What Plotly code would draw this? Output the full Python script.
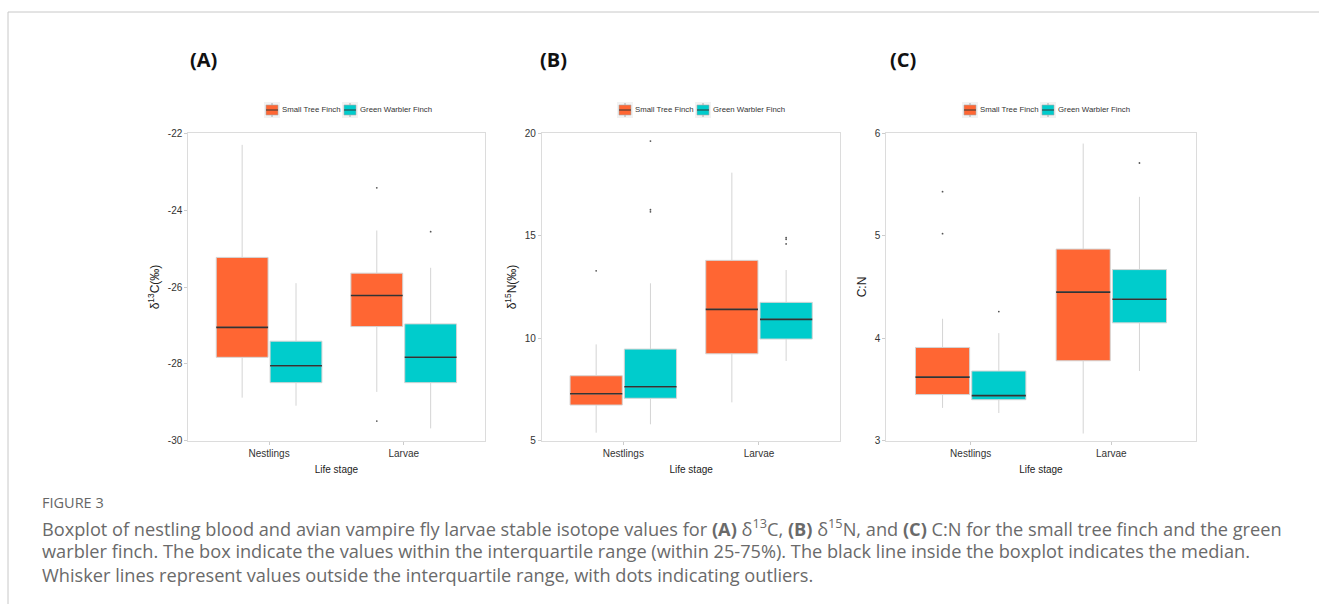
import plotly.graph_objects as go

W, H = 1319, 604
stages = ["Nestlings", "Larvae"]
species = ["Small Tree Finch", "Green Warbler Finch"]
colors = ["#FF6633", "#00CCCC"]

# ---- Panel A: d13C ----
c_stf_low = [-28.88, -28.73]
c_stf_q1 = [-27.83, -27.03]
c_stf_med = [-27.05, -26.22]
c_stf_q3 = [-25.23, -25.64]
c_stf_high = [-22.30, -24.53]
c_stf_out_stage = ["Larvae", "Larvae"]
c_stf_out = [-23.42, -29.49]

c_gwf_low = [-29.09, -29.68]
c_gwf_q1 = [-28.49, -28.49]
c_gwf_med = [-28.05, -27.83]
c_gwf_q3 = [-27.41, -26.96]
c_gwf_high = [-25.90, -25.50]
c_gwf_out_stage = ["Larvae"]
c_gwf_out = [-24.56]

# ---- Panel B: d15N ----
n_stf_low = [5.39, 6.87]
n_stf_q1 = [6.74, 9.24]
n_stf_med = [7.29, 11.41]
n_stf_q3 = [8.17, 13.80]
n_stf_high = [9.70, 18.08]
n_stf_out_stage = ["Nestlings"]
n_stf_out = [13.29]

n_gwf_low = [5.80, 8.89]
n_gwf_q1 = [7.07, 9.96]
n_gwf_med = [7.63, 10.92]
n_gwf_q3 = [9.47, 11.75]
n_gwf_high = [12.68, 13.33]
n_gwf_out_stage = ["Nestlings", "Nestlings", "Nestlings", "Larvae", "Larvae", "Larvae"]
n_gwf_out = [19.62, 16.27, 16.17, 14.91, 14.83, 14.60]

# ---- Panel C: C:N ----
r_stf_low = [3.32, 3.07]
r_stf_q1 = [3.45, 3.78]
r_stf_med = [3.62, 4.45]
r_stf_q3 = [3.91, 4.87]
r_stf_high = [4.19, 5.90]
r_stf_out_stage = ["Nestlings", "Nestlings"]
r_stf_out = [5.43, 5.02]

r_gwf_low = [3.27, 3.68]
r_gwf_q1 = [3.40, 4.15]
r_gwf_med = [3.44, 4.38]
r_gwf_q3 = [3.68, 4.67]
r_gwf_high = [4.05, 5.38]
r_gwf_out_stage = ["Nestlings", "Larvae"]
r_gwf_out = [4.26, 5.71]

y_titles = ["δ<sup>13</sup>C(‰)", "δ<sup>15</sup>N(‰)", "C:N"]
y_ranges = [[-30, -22], [5, 20], [3, 6]]
y_ticks = [[-30, -28, -26, -24, -22], [5, 10, 15, 20], [3, 4, 5, 6]]
panel_labels = ["(A)", "(B)", "(C)"]

panels = [
    [(c_stf_low, c_stf_q1, c_stf_med, c_stf_q3, c_stf_high, c_stf_out_stage, c_stf_out),
     (c_gwf_low, c_gwf_q1, c_gwf_med, c_gwf_q3, c_gwf_high, c_gwf_out_stage, c_gwf_out)],
    [(n_stf_low, n_stf_q1, n_stf_med, n_stf_q3, n_stf_high, n_stf_out_stage, n_stf_out),
     (n_gwf_low, n_gwf_q1, n_gwf_med, n_gwf_q3, n_gwf_high, n_gwf_out_stage, n_gwf_out)],
    [(r_stf_low, r_stf_q1, r_stf_med, r_stf_q3, r_stf_high, r_stf_out_stage, r_stf_out),
     (r_gwf_low, r_gwf_q1, r_gwf_med, r_gwf_q3, r_gwf_high, r_gwf_out_stage, r_gwf_out)],
]

# layout (pixels)
x_dom_px = [(188.3, 484.5), (541.9, 840.4), (886.3, 1195.7)]
y_dom_px = (133.3, 440.7)
legend_left = [264, 617, 962]
legend_y = 110
legend_item_step = 78
label_cx = [203, 553, 903]

offsets = [-0.2, 0.2]
box_w = 0.385
stage_pos = {s: i + 1 for i, s in enumerate(stages)}

fig = go.Figure()
font = "Liberation Sans, Arial, sans-serif"

for p, panel in enumerate(panels):
    xa = "x" if p == 0 else f"x{p+1}"
    ya = "y" if p == 0 else f"y{p+1}"
    for s, (low, q1, med, q3, high, ost, oval) in enumerate(panel):
        xs = [stage_pos[st] + offsets[s] for st in stages]
        fig.add_trace(go.Box(
            x=xs, q1=q1, median=med, q3=q3, lowerfence=low, upperfence=high,
            width=box_w, whiskerwidth=0, boxpoints=False,
            fillcolor=colors[s], line=dict(color="#d4d4d4", width=1),
            name=species[s], xaxis=xa, yaxis=ya,
            showlegend=False, hoverinfo="skip",
        ))
        # median lines
        mx, my = [], []
        for x, m in zip(xs, med):
            mx += [x - box_w / 2, x + box_w / 2, None]
            my += [m, m, None]
        fig.add_trace(go.Scatter(x=mx, y=my, mode="lines",
                                 line=dict(color="#333333", width=1.6),
                                 xaxis=xa, yaxis=ya, showlegend=False, hoverinfo="skip"))
        # outliers
        fig.add_trace(go.Scatter(
            x=[stage_pos[st] + offsets[s] for st in ost], y=oval, mode="markers",
            marker=dict(color="#555555", size=1.8),
            xaxis=xa, yaxis=ya, showlegend=False, hoverinfo="skip"))

layout = dict(
    width=W, height=H, margin=dict(l=0, r=0, t=0, b=0),
    paper_bgcolor="white", plot_bgcolor="white", showlegend=False,
)
for p in range(3):
    xk = "xaxis" if p == 0 else f"xaxis{p+1}"
    yk = "yaxis" if p == 0 else f"yaxis{p+1}"
    x0, x1 = x_dom_px[p]
    layout[xk] = dict(
        domain=[x0 / W, x1 / W], range=[0.4, 2.6], tickvals=[1, 2], ticktext=stages,
        showgrid=False, zeroline=False, showline=True, mirror=True,
        linecolor="#dcdcdc", linewidth=1, ticks="outside", ticklen=3, tickcolor="#cccccc",
        tickfont=dict(family=font, size=10, color="#333333"),
        title=dict(text="Life stage", font=dict(family=font, size=10, color="#222222"), standoff=8),
        anchor="y" if p == 0 else f"y{p+1}", fixedrange=True, automargin=False,
    )
    layout[yk] = dict(
        domain=[1 - y_dom_px[1] / H, 1 - y_dom_px[0] / H], range=y_ranges[p],
        tickvals=y_ticks[p], ticktext=[f"{v:g}" for v in y_ticks[p]],
        showgrid=False, zeroline=False, showline=True, mirror=True,
        linecolor="#dcdcdc", linewidth=1, ticks="outside", ticklen=3, tickcolor="#cccccc",
        tickfont=dict(family=font, size=10, color="#333333"),
        title=dict(text=y_titles[p], font=dict(family=font, size=12, color="#222222"), standoff=5),
        anchor="x" if p == 0 else f"x{p+1}", fixedrange=True, automargin=False,
    )

fig.update_layout(**layout)

def px_x(v):
    return v / W

def px_y(v):
    return 1 - v / H

# legend keys (ggplot-style boxplot keys), one legend per panel
for p in range(3):
    for s in range(2):
        L = legend_left[p] + s * legend_item_step
        fig.add_shape(type="rect", xref="paper", yref="paper",
                      x0=px_x(L), x1=px_x(L + 16), y0=px_y(legend_y + 8), y1=px_y(legend_y - 8),
                      line=dict(width=0), fillcolor="#f2f2f2")
        fig.add_shape(type="line", xref="paper", yref="paper",
                      x0=px_x(L + 8), x1=px_x(L + 8), y0=px_y(legend_y + 7), y1=px_y(legend_y - 7),
                      line=dict(color="#999999", width=0.8))
        fig.add_shape(type="rect", xref="paper", yref="paper",
                      x0=px_x(L + 2), x1=px_x(L + 14), y0=px_y(legend_y + 5), y1=px_y(legend_y - 5),
                      line=dict(color="#aaaaaa", width=0.6), fillcolor=colors[s])
        fig.add_shape(type="line", xref="paper", yref="paper",
                      x0=px_x(L + 2), x1=px_x(L + 14), y0=px_y(legend_y), y1=px_y(legend_y),
                      line=dict(color="#333333", width=1))
        fig.add_annotation(text=species[s], x=px_x(L + 16), y=px_y(legend_y),
                           xref="paper", yref="paper", xanchor="left", yanchor="middle",
                           showarrow=False, font=dict(family=font, size=7.8, color="#333333"))

# panel labels
for p in range(3):
    fig.add_annotation(text="<b>" + panel_labels[p] + "</b>", x=px_x(label_cx[p]), y=px_y(60),
                       xref="paper", yref="paper", showarrow=False,
                       xanchor="center", yanchor="middle",
                       font=dict(family="Open Sans, sans-serif", size=20, color="#111111"))

# frame lines
fig.add_shape(type="line", xref="paper", yref="paper", x0=px_x(8), x1=1, y0=px_y(12), y1=px_y(12),
              line=dict(color="#c8c8c8", width=1))
fig.add_shape(type="line", xref="paper", yref="paper", x0=px_x(8), x1=px_x(8), y0=0, y1=px_y(12),
              line=dict(color="#c8c8c8", width=1))

cap_font = "Open Sans, sans-serif"
caption_title = "FIGURE 3"
caption_lines = [
    "Boxplot of nestling blood and avian vampire fly larvae stable isotope values for <b>(A)</b> δ<sup>13</sup>C, <b>(B)</b> δ<sup>15</sup>N, and <b>(C)</b> C:N for the small tree finch and the green",
    "warbler finch. The box indicate the values within the interquartile range (within 25-75%). The black line inside the boxplot indicates the median.",
    "Whisker lines represent values outside the interquartile range, with dots indicating outliers.",
]
fig.add_annotation(text=caption_title, x=px_x(40), y=px_y(502), xref="paper", yref="paper",
                   xanchor="left", yanchor="middle", showarrow=False,
                   font=dict(family=cap_font, size=14.5, color="#666666"))
for i, line in enumerate(caption_lines):
    fig.add_annotation(text=line, x=px_x(40), y=px_y(527 + 24 * i), xref="paper", yref="paper",
                       xanchor="left", yanchor="middle", showarrow=False,
                       font=dict(family=cap_font, size=18.2, color="#6a6a6a"))

fig.write_html("out.html", config={"displayModeBar": False},
               post_script="document.body.style.margin='0';document.body.style.overflow='hidden';")
